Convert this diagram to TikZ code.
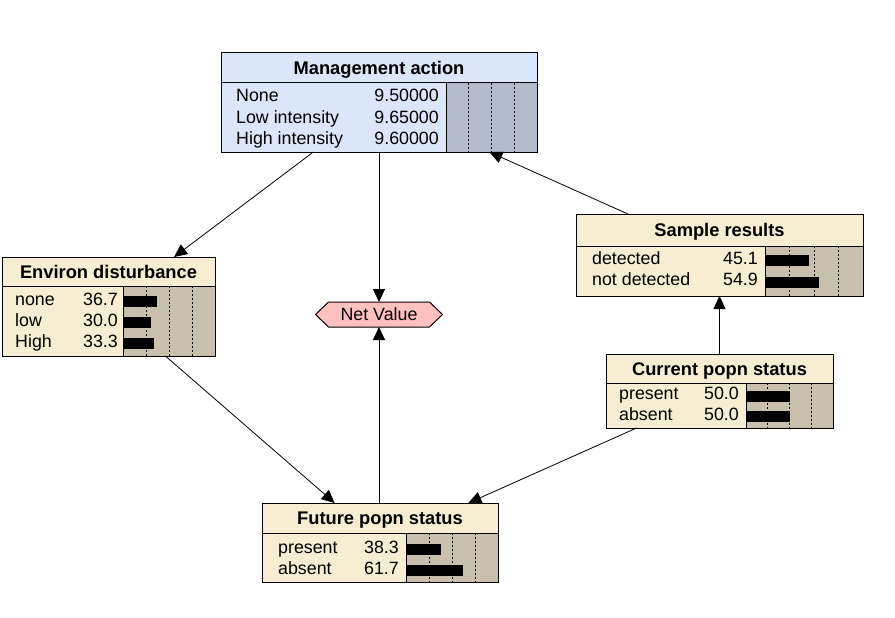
\documentclass[tikz,border=0pt]{standalone}
\usepackage{fontspec}
\setmainfont{Liberation Sans}
\usetikzlibrary{arrows.meta,fit,calc}
\definecolor{creamfill}{RGB}{246,237,210}
\definecolor{creambar}{RGB}{200,192,172}
\definecolor{bluefill}{RGB}{220,230,250}
\definecolor{bluebar}{RGB}{180,186,206}
\definecolor{pinkfill}{RGB}{255,192,192}
\tikzset{
  frame/.style={draw=black, line width=1pt},
  gridln/.style={black, line width=1pt, dash pattern=on 2pt off 2pt},
  arr/.style={draw=black, line width=0.8pt, -{Triangle[length=13pt,width=12pt]}},
  ttl/.style={font=\fontsize{18.3}{20}\selectfont\bfseries, anchor=base, inner sep=0},
  lbl/.style={font=\fontsize{17.8}{20}\selectfont, anchor=base west, inner sep=0},
  val/.style={font=\fontsize{17.8}{20}\selectfont, anchor=base east, inner sep=0},
  body/.style={font=\fontsize{17.8}{20}\selectfont, inner sep=0},
}
% #1 name #2 x1 #3 y1 #4 x2 #5 y2 #6 separator y #7 bar-area x #8 title #9 scheme
\newcommand\bnbox[9]{%
  \coordinate (#1-a) at (#2,#3);
  \coordinate (#1-b) at (#4,#5);
  \fill[#9fill] (#1-a) rectangle (#1-b);
  \fill[#9bar] (#7,#6) rectangle (#4,#5);
  \foreach \f in {0.25,0.5,0.75}{\draw[gridln] ({#7+\f*(#4-#7)},#6) -- ({#7+\f*(#4-#7)},#5);}
  \draw[frame] (#7,#6) -- (#7,#5);
  \draw[frame] (#2,#6) -- (#4,#6);
  \node[frame, fit=(#1-a)(#1-b), inner sep=0, outer sep=0] (#1) {};
  \node[ttl] (#1-t) at ({(#2+#4)/2},{(#3+#6)/2+6.5}) {#8};
}
% #1 id #2 labx #3 valx #4 barx #5 barx2 #6 baseline #7 label #8 value #9 pct
\newcommand\bnrow[9]{%
  \node[lbl] (#1-l) at (#2,#6) {#7};
  \node[val] (#1-v) at (#3,#6) {#8};
  \fill[black] (#4,#6-9) rectangle ({#4+#9/100*(#5-#4)},#6+2);
}
% #1 id #2 labx #3 valx #4 baseline #5 label #6 value
\newcommand\bnrowt[6]{%
  \node[lbl] (#1-l) at (#2,#4) {#5};
  \node[val] (#1-v) at (#3,#4) {#6};
}
\begin{document}
\begin{tikzpicture}[x=1pt,y=-1pt]
\useasboundingbox[fill=white] (0,0) rectangle (895,618);

\bnbox{ma}{221}{53}{537}{152}{83}{446}{Management action}{blue}
\bnrowt{ma1}{236}{439}{102}{None}{9.50000}
\bnrowt{ma2}{236}{439}{123}{Low intensity}{9.65000}
\bnrowt{ma3}{236}{439}{144}{High intensity}{9.60000}

\bnbox{env}{2}{257}{215}{356}{286}{123}{Environ disturbance}{cream}
\bnrow{env1}{15}{118}{123}{215}{305}{none}{36.7}{36.7}
\bnrow{env2}{15}{118}{123}{215}{326}{low}{30.0}{30.0}
\bnrow{env3}{15}{118}{123}{215}{347}{High}{33.3}{33.3}

\bnbox{sr}{576}{214}{863}{296}{246}{765}{Sample results}{cream}
\bnrow{sr1}{592}{758}{765}{863}{264}{detected}{45.1}{45.1}
\bnrow{sr2}{592}{758}{765}{863}{285.5}{not detected}{54.9}{54.9}

\bnbox{cp}{606}{354}{833}{428}{383}{746}{Current popn status}{cream}
\bnrow{cp1}{619}{739}{746}{833}{399.5}{present}{50.0}{50.0}
\bnrow{cp2}{619}{739}{746}{833}{420}{absent}{50.0}{50.0}

\bnbox{fp}{262}{503}{498}{582}{533}{406}{Future popn status}{cream}
\bnrow{fp1}{278}{399}{406}{498}{553}{present}{38.3}{38.3}
\bnrow{fp2}{278}{399}{406}{498}{574}{absent}{61.7}{61.7}

\node[minimum width=127pt, minimum height=25pt, inner sep=0, outer sep=0] (nv) at (379,314.5) {};
\filldraw[fill=pinkfill, draw=black, line width=1pt] (nv.west) -- ($(nv.north west)+(13,0)$) -- ($(nv.north east)+(-13,0)$) -- (nv.east) -- ($(nv.south east)+(-13,0)$) -- ($(nv.south west)+(13,0)$) -- cycle;
\node[body] (nvt) at (nv.center) {Net Value};

\draw[arr] (ma) -- (env);
\draw[arr] (ma) -- (nv);
\draw[arr] (sr) -- (ma);
\draw[arr] (env) -- (fp);
\draw[arr] (fp.north -| nv.south) -- (nv.south);
\draw[arr] (cp) -- (fp);
\draw[arr] (cp) -- (sr);
\end{tikzpicture}
\end{document}
